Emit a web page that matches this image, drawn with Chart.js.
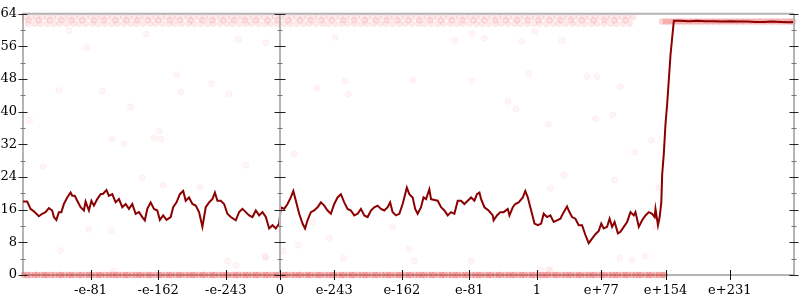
<!DOCTYPE html>
<html>
<head>
<meta charset="utf-8">
<script src="https://cdn.jsdelivr.net/npm/chart.js@4"></script>
<style>
  body { margin: 0; background: #fff; }
  canvas { display: block; }
</style>
</head>
<body>
<canvas id="chart" width="800" height="300"></canvas>
<script>
// x is the position on a symmetric exponent axis: -1 .. 0 .. 1 .. max double
const xTickPos = [-227, -146, -65, 0, 65, 146, 227, 308, 385, 462, 539];
const xTickLabels = ["-e-81", "-e-162", "-e-243", "0", "e-243", "e-162", "e-81", "1", "e+77", "e+154", "e+231"];
const yMarks = [0, 4, 8, 12, 16, 20, 24, 28, 32, 36, 40, 44, 48, 52, 56, 60, 64];

// running value (dark red line)
const linePoints = [
  [-308,18.0],[-303,18.0],[-299,16.2],[-295,15.6],[-289,14.4],[-285,15.0],[-281,15.4],[-277,16.4],[-273,15.8],[-271,14.2],
  [-268,13.5],[-265,15.4],[-262,15.4],[-259,17.4],[-255,19.0],[-251,20.2],[-249,19.4],[-246,19.4],[-243,18.2],[-239,16.6],
  [-235,15.8],[-233,18.0],[-229,15.8],[-226,18.2],[-223,17.0],[-219,18.6],[-215,19.8],[-212,19.9],[-208,20.8],[-205,19.4],
  [-201,19.8],[-197,17.8],[-193,18.6],[-189,16.6],[-185,17.4],[-181,16.2],[-177,17.4],[-173,15.0],[-169,15.4],[-165,14.2],
  [-162,13.4],[-159,16.2],[-155,17.8],[-151,16.2],[-147,15.8],[-144,13.5],[-140,14.6],[-136,13.5],[-131,14.2],[-128,16.6],
  [-124,17.8],[-120,19.8],[-116,20.6],[-113,18.2],[-109,19.0],[-105,17.4],[-101,17.0],[-97,15.4],[-93,11.8],[-89,16.6],
  [-85,17.8],[-81,18.6],[-78,20.2],[-75,18.2],[-71,18.2],[-67,17.4],[-63,15.0],[-59,14.2],[-53,13.4],[-49,15.4],
  [-45,16.2],[-41,15.4],[-37,14.6],[-33,14.2],[-29,15.8],[-25,14.6],[-21,15.4],[-17,14.2],[-13,11.4],[-9,12.2],
  [-5,11.4],[-1,12.6],[1,16.6],[5,16.2],[9,17.4],[13,19.0],[16,20.6],[19,18.2],[23,15.0],[27,12.6],
  [30,11.4],[33,13.4],[37,15.4],[41,15.8],[45,16.6],[49,17.8],[53,17.0],[57,15.8],[61,15.0],[65,17.4],
  [69,19.0],[73,19.8],[77,17.8],[81,16.2],[85,15.8],[89,14.6],[93,15.0],[97,16.2],[101,14.6],[105,14.2],
  [109,15.8],[113,16.6],[117,17.0],[121,16.2],[125,15.8],[129,16.6],[132,17.8],[135,15.4],[139,14.6],[143,15.0],
  [147,17.4],[149,19.0],[152,21.4],[155,19.8],[159,19.0],[162,16.2],[165,15.0],[169,16.6],[172,19.0],[175,18.6],
  [179,21.0],[181,18.6],[185,18.4],[189,18.2],[193,16.6],[197,15.8],[201,14.6],[205,15.4],[209,15.0],[213,18.2],
  [217,18.2],[221,17.4],[225,18.2],[229,19.0],[233,18.2],[236,19.8],[239,20.2],[241,18.6],[245,16.6],[250,15.8],
  [255,14.6],[256,13.4],[260,14.6],[264,15.4],[268,15.4],[273,16.2],[275,14.6],[279,16.6],[282,17.4],[286,17.8],
  [291,19.0],[294,20.6],[297,19.0],[300,16.6],[302,15.0],[305,12.6],[309,12.2],[313,12.6],[316,15.0],[320,14.2],
  [324,14.6],[328,13.0],[332,13.4],[336,13.8],[340,15.4],[344,16.8],[346,15.8],[350,14.2],[354,13.8],[358,12.2],
  [362,12.2],[366,9.8],[370,7.8],[374,8.9],[378,10.0],[382,10.8],[385,12.6],[388,11.4],[392,11.8],[395,13.8],
  [398,11.8],[401,13.0],[405,10.2],[408,10.6],[412,11.8],[416,13.0],[420,15.4],[424,14.6],[426,15.4],[430,11.8],
  [434,13.4],[438,14.6],[442,15.4],[446,15.0],[449,14.2],[450,16.2],[453,12.2],[455,14.2],[457,17.8],[458,24.6],
  [460,29.8],[462,37.0],[464,41.9],[468,53.9],[472,62.3],[480,62.3],[490,62.2],[500,62.3],[510,62.2],[520,62.2],
  [530,62.1],[540,62.2],[550,62.1],[560,62.1],[570,62.0],[580,62.0],[590,62.1],[600,62.0],[610,61.9],[616,62.0]
];

// samples sitting at 0
const bottomX = [-307,-303,-299,-294,-291,-286,-282,-279,-274,-270,-265,-262,-258,-253,-250,-246,-241,-238,-233,-229,
  -226,-221,-217,-214,-209,-205,-201,-197,-194,-189,-185,-182,-177,-173,-169,-166,-161,-157,-154,-149,
  -145,-142,-137,-133,-130,-125,-121,-118,-113,-109,-105,-102,-97,-93,-90,-85,-81,-78,-73,-69,
  -65,-62,-57,-53,-50,-45,-41,-38,-33,-29,-26,-21,-17,-14,-9,-5,-2,2,6,9,
  14,18,22,25,30,34,37,42,46,49,54,58,62,65,70,74,77,82,86,89,
  94,98,102,105,110,114,117,122,126,130,133,138,142,145,150,154,157,162,166,170,
  173,178,182,185,190,194,197,202,206,210,213,218,222,225,230,234,238,241,246,250,
  253,258,262,265,270,274,278,281,286,290,293,298,302,305,310,314,318,321,326,330,
  333,338,342,346,349,354,358,361,366,370,374,377,382,386,389,394,398,402,405,410,
  414,417,422,426,430,433,438,442,445,450,454,458,461];

// samples near the top
const topHighX = [-305,-298,-292,-285,-279,-272,-266,-259,-253,-246,-240,-233,-227,-220,-214,-207,-201,-194,-188,-181,
  -175,-168,-162,-155,-149,-142,-136,-129,-123,-116,-110,-103,-97,-90,-84,-77,-71,-64,-58,-51,
  -45,-38,-32,-25,-19,-12,-6,1,7,14,20,27,33,40,46,53,59,66,72,79,
  85,92,98,105,111,118,124,131,137,144,150,157,163,170,176,183,189,196,202,209,
  215,222,228,235,241,248,254,261,267,274,280,287,293,300,306,313,319,326,332,339,
  345,352,358,365,371,378,384,391,397,404,410,417,423];
const topMidX = [-301,-289,-276,-262,-250,-237,-223,-211,-197,-184,-171,-158,-146,-132,-120,-107,-93,-81,-68,-55,
  -42,-29,-15,-3,10,24,37,50,62,76,89,102,115,128,141,154,167,180,193,206,
  219,232,245,258,271,284,297,310,323,336,349,362,376,389,401,414];
const topLowX = [-302,-294,-287,-279,-271,-264,-256,-248,-241,-233,-225,-218,-210,-202,-195,-187,-179,-172,-164,-156,
  -149,-141,-133,-126,-118,-110,-103,-95,-87,-80,-72,-64,-57,-49,-41,-34,-26,-18,-11,-3,
  5,12,20,28,35,43,51,58,66,74,81,89,97,104,112,120,127,135,143,150,
  158,166,173,181,189,196,204,212,219,227,235,242,250,258,265,273,281,288,296,304,
  311,319,327,334,342,350,357,365,373,380,388,396,403,411,419];
const rightBandX = [458,462,465,469,472,476,479,483,486,490,493,497,500,504,507,511,514,518,521,525,
  528,532,535,539,542,546,549,553,556,560,563,567,570,574,577,581,584,588,591,595,
  598,602,605,609,612,615];

// scattered samples in between
const sparsePoints = [[-253,59.9],[-232,55.7],[-160,59.1],[-124,49.1],[-82,46.9],[-50,57.7],[-17,56.9],[-265,45.2],
  [-213,45.1],[-119,44.9],[-61,44.4],[-300,37.9],[-179,41.2],[-201,33.3],[-187,32.2],[-151,33.6],[-145,35.2],
  [-143,33.3],[-284,26.6],[-41,26.9],[-165,23.8],[-140,22.0],[-96,21.6],[17,29.6],[-229,11.2],[-202,10.9],
  [-263,6.0],[-63,3.4],[-53,2.4],[-17,4.3],[22,7.3],[-200,1.0],[4,5.8],[66,58.2],[209,57.5],[230,59.2],
  [245,58.0],[290,57.3],[305,59.7],[298,49.3],[159,47.7],[230,47.7],[78,47.6],[44,45.8],[82,44.3],[273,42.5],
  [283,40.7],[322,36.9],[378,38.3],[399,39.2],[445,33.0],[425,30.1],[340,24.5],[401,23.3],[324,21.2],[454,21.4],
  [-18,4.6],[59,9.1],[39,13.0],[76,4.1],[135,11.8],[154,6.5],[161,3.4],[229,3.4],[313,1.2],[274,14.2],
  [322,1.4],[450,11.8],[438,4.6],[422,3.6],[407,4.1],[324,1.0],[338,57.5],[368,48.6],[380,48.6],[408,46.2]];

Chart.defaults.font.family = "'DejaVu Serif', serif";
Chart.defaults.font.size = 13;
Chart.defaults.color = "#000";

function pts(xs, y) {
  return xs.map(x => ({ x: x, y: y }));
}
function dots(data, fill, line) {
  return {
    type: "scatter",
    data: data,
    clip: false,
    pointRadius: 3,
    pointBorderWidth: 1,
    backgroundColor: fill,
    borderColor: line
  };
}
const bandFill = "rgba(240, 60, 60, 0.10)";
const bandLine = "rgba(230, 40, 40, 0.07)";

// extra axis lines and crossing tick marks
const axisMarks = {
  id: "axisMarks",
  afterDatasetsDraw(chart) {
    const { ctx, chartArea: a, scales: { x, y } } = chart;
    const x0 = x.getPixelForValue(0);
    const seg = (x1, y1, x2, y2) => { ctx.beginPath(); ctx.moveTo(x1, y1); ctx.lineTo(x2, y2); ctx.stroke(); };
    ctx.save();
    ctx.strokeStyle = "#b4b4b4";
    ctx.lineWidth = 2;
    seg(a.left, a.top, a.right, a.top);
    seg(a.right, a.top, a.right, a.bottom);
    seg(x0, a.top, x0, a.bottom);
    ctx.lineWidth = 1;
    yMarks.forEach(v => {
      const py = Math.round(y.getPixelForValue(v)) + 0.5;
      const major = v % 8 === 0;
      ctx.strokeStyle = major ? "#222" : "#777";
      const h = major ? 4.5 : 2.5;
      seg(a.left - h, py, a.left + h, py);
      seg(a.right - h, py, a.right + h, py);
      seg(x0 - (major ? 5.5 : 2.5), py, x0 + (major ? 5.5 : 2.5), py);
    });
    ctx.strokeStyle = "#111";
    xTickPos.forEach(v => {
      const px = Math.round(x.getPixelForValue(v)) + 0.5;
      seg(px, a.bottom - 5, px, a.bottom + 5);
    });
    ctx.restore();
  }
};

new Chart(document.getElementById("chart"), {
  type: "scatter",
  data: {
    datasets: [
      {
        type: "line",
        data: linePoints.map(p => ({ x: p[0], y: p[1] })),
        borderColor: "#8b0000",
        borderWidth: 2,
        pointRadius: 0,
        tension: 0
      },
      dots(pts(bottomX, 0), "rgba(235, 40, 40, 0.24)", "rgba(215, 20, 20, 0.16)"),
      dots(pts(topHighX, 63.2), bandFill, bandLine),
      dots(pts(topMidX, 62.4), bandFill, bandLine),
      dots(pts(topLowX, 61.6), bandFill, bandLine),
      dots(pts(rightBandX, 62.1), "rgba(235, 50, 50, 0.18)", "rgba(220, 30, 30, 0.12)"),
      dots(sparsePoints.map(p => ({ x: p[0], y: p[1] })), "rgba(250, 60, 60, 0.05)", "rgba(240, 60, 60, 0.05)")
    ]
  },
  options: {
    responsive: false,
    animation: false,
    devicePixelRatio: 1,
    layout: { padding: { top: 8, right: 6 } },
    plugins: { legend: { display: false }, tooltip: { enabled: false } },
    scales: {
      x: {
        type: "linear",
        min: -308,
        max: 616,
        afterBuildTicks: s => { s.ticks = xTickPos.map(v => ({ value: v })); },
        afterFit: s => { s.height = 25; },
        ticks: {
          padding: 8,
          maxRotation: 0,
          autoSkip: false,
          callback: (v, i) => xTickLabels[i]
        },
        grid: { display: false, drawTicks: false },
        border: { color: "#b4b4b4", width: 2 }
      },
      y: {
        min: 0,
        max: 64,
        afterFit: s => { s.width = 23; },
        ticks: { stepSize: 8, padding: 6 },
        grid: { display: false, drawTicks: false },
        border: { color: "#b4b4b4", width: 2 }
      }
    }
  },
  plugins: [axisMarks]
});
</script>
</body>
</html>
